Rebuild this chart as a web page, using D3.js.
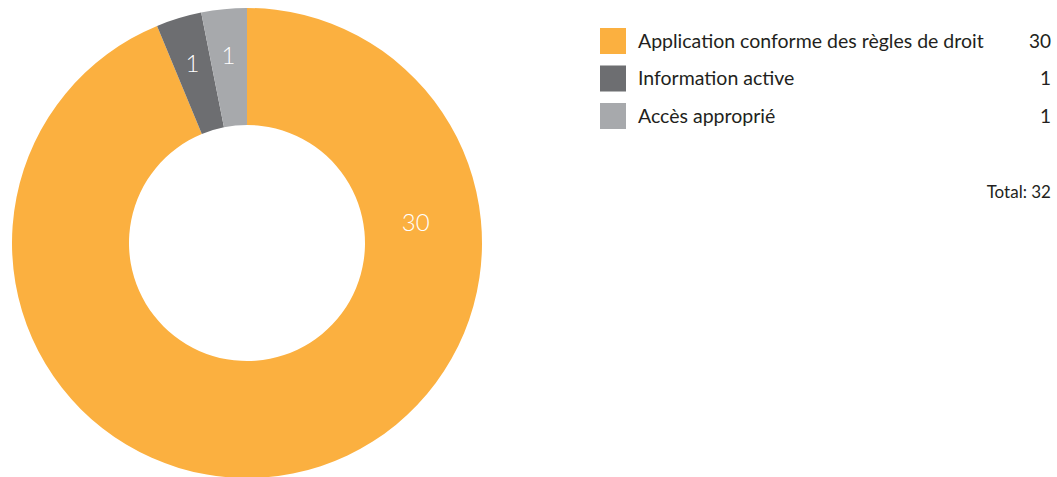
<!DOCTYPE html>
<html>
<head>
<meta charset="utf-8">
<script src="https://cdn.jsdelivr.net/npm/d3@7"></script>
<style>
  body { margin: 0; background: #fff; }
  text { font-family: "Lato", "Open Sans", sans-serif; }
</style>
</head>
<body>
<div id="chart"></div>
<script>
// données
const categories = ["Application conforme des règles de droit", "Information active", "Accès approprié"];
const values = [30, 1, 1];
const colors = ["#FBB040", "#6D6E71", "#A7A9AC"];
const totalLabel = "Total: ";

const width = 1057;
const height = 477;

const svg = d3
    .select("div#chart")
    .append("svg")
    .attr("width", width)
    .attr("height", height);

// donut
const cx = 247, cy = 243;
const outerR = 235, innerR = 118;

const pie = d3.pie().sort(null).value((d) => d.value);
const data = categories.map((c, i) => ({ name: c, value: values[i], color: colors[i] }));
const arcs = pie(data);

const arc = d3.arc().innerRadius(innerR).outerRadius(outerR);

const donut = svg.append("g").attr("transform", `translate(${cx},${cy})`);

donut
    .selectAll("path")
    .data(arcs)
    .enter()
    .append("path")
    .attr("d", arc)
    .attr("fill", (d) => d.data.color);

// étiquettes dans les tranches
function labelPos(d) {
    const span = d.endAngle - d.startAngle;
    // grande tranche : étiquette placée vers la droite
    const a = span > Math.PI ? d.startAngle + span * 0.246 : d.startAngle + span / 2;
    const r = span > Math.PI ? 170 : 188;
    return [Math.sin(a) * r, -Math.cos(a) * r];
}

donut
    .selectAll("text")
    .data(arcs)
    .enter()
    .append("text")
    .attr("transform", (d) => `translate(${labelPos(d)})`)
    .attr("text-anchor", "middle")
    .attr("dy", "0.35em")
    .attr("fill", "#fff")
    .attr("font-size", 24)
    .attr("font-weight", 300)
    .text((d) => d.data.value);

// légende
const legend = svg.append("g").attr("class", "legend");
const rowY = d3.scalePoint().domain(categories).range([41, 116]);

const rows = legend
    .selectAll("g")
    .data(data)
    .enter()
    .append("g")
    .attr("transform", (d) => `translate(0,${rowY(d.name)})`);

rows.append("rect")
    .attr("x", 600)
    .attr("y", -13)
    .attr("width", 26)
    .attr("height", 26)
    .attr("fill", (d) => d.color);

rows.append("text")
    .attr("x", 638)
    .attr("dy", "0.35em")
    .attr("font-size", 19.5)
    .attr("fill", "#231F20")
    .text((d) => d.name);

rows.append("text")
    .attr("x", 1051)
    .attr("dy", "0.35em")
    .attr("text-anchor", "end")
    .attr("font-size", 19)
    .attr("fill", "#231F20")
    .text((d) => d.value);

legend
    .append("text")
    .attr("x", 1051)
    .attr("y", 198)
    .attr("text-anchor", "end")
    .attr("font-size", 17)
    .attr("fill", "#231F20")
    .text(totalLabel + d3.sum(values));
</script>
</body>
</html>
